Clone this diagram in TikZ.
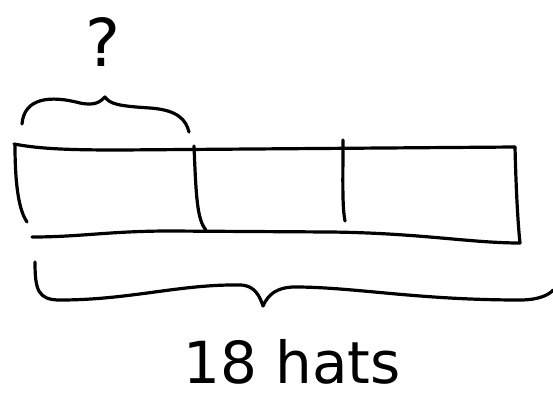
\documentclass[tikz,border=0pt]{standalone}
\usepackage{fontspec}
\setmainfont{DejaVu Sans}
\usetikzlibrary{positioning}
\tikzset{
  pen/.style={draw=black, line width=3.2pt, line cap=round, line join=round},
  hand/.style={font=\fontsize{58}{58}\selectfont, inner sep=0pt}
}
\begin{document}
\begin{tikzpicture}[x=1pt, y=-1pt]
  \useasboundingbox (0,0) rectangle (553,399);
  % question mark over the first part
  \node[hand, font=\fontsize{66}{66}\selectfont] (ask) at (103,42) {?};
  % top brace
  \draw[pen] (22,124) .. controls (24,98) and (50,95) .. (80,103)
             .. controls (95,106) and (100,102) .. (105,97)
             .. controls (110,104) and (118,106) .. (150,108)
             .. controls (178,110) and (186,120) .. (189,132);
  % tape
  \draw[pen] (14,144) .. controls (40,149) and (70,150) .. (120,150) -- (515,147);
  \draw[pen] (15,145) .. controls (15,190) and (20,212) .. (27,222);
  \draw[pen] (194,146) .. controls (196,195) and (197,220) .. (206,230);
  \draw[pen] (343,140) .. controls (343,180) and (342,205) .. (345,221);
  \draw[pen] (515,147) .. controls (516,190) and (518,225) .. (520,243);
  \draw[pen] (32,237) .. controls (80,237) and (110,231) .. (170,231)
             -- (330,232) .. controls (420,233) and (470,243) .. (520,243);
  % bottom brace
  \draw[pen] (35,262) .. controls (35,290) and (38,300) .. (60,300)
             .. controls (130,300) and (180,284) .. (240,285)
             .. controls (255,285) and (260,297) .. (263,306)
             .. controls (268,295) and (276,286) .. (300,287)
             .. controls (360,288) and (420,300) .. (520,300)
             .. controls (540,300) and (550,294) .. (553,290);
  % total label
  \node[hand] (total) at (292,362) {18 hats};
\end{tikzpicture}
\end{document}
